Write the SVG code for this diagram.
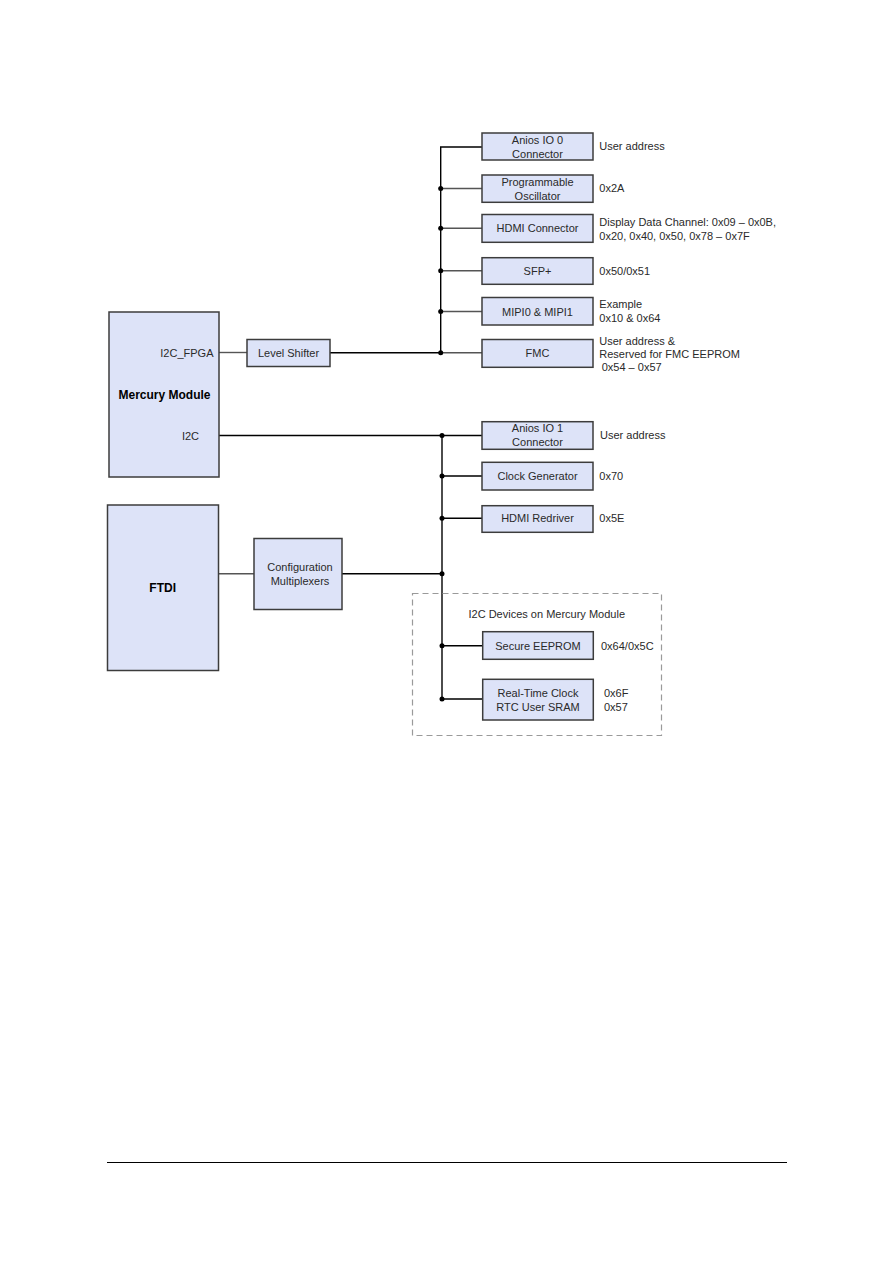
<svg xmlns="http://www.w3.org/2000/svg" width="893" height="1263" viewBox="0 0 893 1263">
<style>
.box{fill:#dde3f8;stroke:#3c3c3c;stroke-width:1.5}
.t{font-family:"Liberation Sans",Arial,sans-serif;font-size:11px;fill:#2a2a2a}
.c{text-anchor:middle}
.b{font-weight:bold;fill:#000;font-size:12px}
.w{stroke:#000;stroke-width:1.4;fill:none}
.g{stroke:#555;stroke-width:1.4;fill:none}
.dash{fill:none;stroke:#9a9a9a;stroke-width:1.2;stroke-dasharray:6,4}
</style>
<rect width="893" height="1263" fill="#fff"/>
<g id="connectors">
<path class="w" d="M482 147 H440.7 V352.7"/>
<path class="g" d="M440.7 188.5 H482 M440.7 228.3 H482 M440.7 270.7 H482 M440.7 311.5 H482 M440.7 352.7 H482"/>
<path class="g" d="M219 352.5 H247"/>
<path class="w" d="M330 352.7 H440.7"/>
<path class="w" d="M219 435.5 H482"/>
<path class="w" d="M442 435.5 V699"/>
<path class="w" d="M442 476 H482 M442 518.3 H482 M442 645.7 H482.7 M442 699 H482.7"/>
<path class="g" d="M218 573.7 H254"/>
<path class="w" d="M342 573.7 H442"/>
<g fill="#000">
<circle cx="440.7" cy="188.5" r="2.5"/><circle cx="440.7" cy="228.3" r="2.5"/><circle cx="440.7" cy="270.7" r="2.5"/><circle cx="440.7" cy="311.5" r="2.5"/><circle cx="440.7" cy="352.7" r="2.5"/>
<circle cx="442" cy="435.5" r="2.5"/><circle cx="442" cy="476" r="2.5"/><circle cx="442" cy="518.3" r="2.5"/><circle cx="442" cy="573.7" r="2.5"/><circle cx="442" cy="645.7" r="2.5"/><circle cx="442" cy="699" r="2.5"/>
</g>
</g>
<g id="group-mercury-devices">
<rect class="dash" x="412.5" y="593.5" width="249" height="142"/>
<text class="t" x="468.5" y="617.5">I2C Devices on Mercury Module</text>
</g>
<g id="mercury">
<rect class="box" x="109" y="312" width="110" height="165"/>
<text class="t" x="213.5" y="356.5" text-anchor="end">I2C_FPGA</text>
<text class="t c b" x="164.5" y="398.5">Mercury Module</text>
<text class="t" x="199" y="439.5" text-anchor="end">I2C</text>
</g>
<g id="level-shifter">
<rect class="box" x="247" y="339.5" width="83" height="27"/>
<text class="t c" x="288.5" y="357">Level Shifter</text>
</g>
<g id="ftdi">
<rect class="box" x="107.5" y="505" width="111" height="165.5"/>
<text class="t c b" x="162.7" y="591.5">FTDI</text>
</g>
<g id="config-mux">
<rect class="box" x="254" y="538.5" width="88" height="71"/>
<text class="t c" x="300" y="571">Configuration</text>
<text class="t c" x="300" y="585">Multiplexers</text>
</g>
<g id="anios0">
<rect class="box" x="482" y="133" width="111" height="27"/>
<text class="t c" x="537.5" y="144">Anios IO 0</text>
<text class="t c" x="537.5" y="157.5">Connector</text>
<text class="t" x="599.3" y="150">User address</text>
</g>
<g id="prog-osc">
<rect class="box" x="482" y="175" width="111" height="27.3"/>
<text class="t c" x="537.5" y="185.7">Programmable</text>
<text class="t c" x="537.5" y="199.7">Oscillator</text>
<text class="t" x="599.3" y="192">0x2A</text>
</g>
<g id="hdmi-conn">
<rect class="box" x="482" y="214.5" width="111" height="27.8"/>
<text class="t c" x="537.5" y="232.3">HDMI Connector</text>
<text class="t" x="599.3" y="226">Display Data Channel: 0x09 – 0x0B,</text>
<text class="t" x="599.3" y="239.5">0x20, 0x40, 0x50, 0x78 – 0x7F</text>
</g>
<g id="sfp">
<rect class="box" x="482" y="257.7" width="111" height="26.6"/>
<text class="t c" x="537.5" y="274.7">SFP+</text>
<text class="t" x="599.3" y="274.7">0x50/0x51</text>
</g>
<g id="mipi">
<rect class="box" x="482" y="297.5" width="111" height="27.5"/>
<text class="t c" x="537.5" y="315.5">MIPI0 &amp; MIPI1</text>
<text class="t" x="599.3" y="308.3">Example</text>
<text class="t" x="599.3" y="321.7">0x10 &amp; 0x64</text>
</g>
<g id="fmc">
<rect class="box" x="482" y="339.5" width="111" height="27.8"/>
<text class="t c" x="537.5" y="356.7">FMC</text>
<text class="t" x="599.3" y="344.7">User address &amp;</text>
<text class="t" x="599.3" y="357.7">Reserved for FMC EEPROM</text>
<text class="t" x="601.7" y="371.3">0x54 – 0x57</text>
</g>
<g id="anios1">
<rect class="box" x="482" y="421.7" width="111" height="27.6"/>
<text class="t c" x="537.5" y="432.3">Anios IO 1</text>
<text class="t c" x="537.5" y="446.3">Connector</text>
<text class="t" x="600" y="439.3">User address</text>
</g>
<g id="clock-gen">
<rect class="box" x="482" y="462.3" width="111" height="27.7"/>
<text class="t c" x="537.5" y="480">Clock Generator</text>
<text class="t" x="599.3" y="480">0x70</text>
</g>
<g id="hdmi-redriver">
<rect class="box" x="482" y="505.7" width="111" height="26.6"/>
<text class="t c" x="537.5" y="522.3">HDMI Redriver</text>
<text class="t" x="599.3" y="522.3">0x5E</text>
</g>
<g id="secure-eeprom">
<rect class="box" x="482.7" y="631.7" width="110.6" height="27.6"/>
<text class="t c" x="538" y="649.5">Secure EEPROM</text>
<text class="t" x="601" y="649.7">0x64/0x5C</text>
</g>
<g id="rtc">
<rect class="box" x="482.7" y="679.3" width="110.6" height="40.7"/>
<text class="t c" x="538" y="697.3">Real-Time Clock</text>
<text class="t c" x="538" y="710.7">RTC User SRAM</text>
<text class="t" x="604" y="697.3">0x6F</text>
<text class="t" x="604" y="710.7">0x57</text>
</g>
<line x1="107" y1="1162.5" x2="787" y2="1162.5" stroke="#000" stroke-width="1.2"/>
</svg>
